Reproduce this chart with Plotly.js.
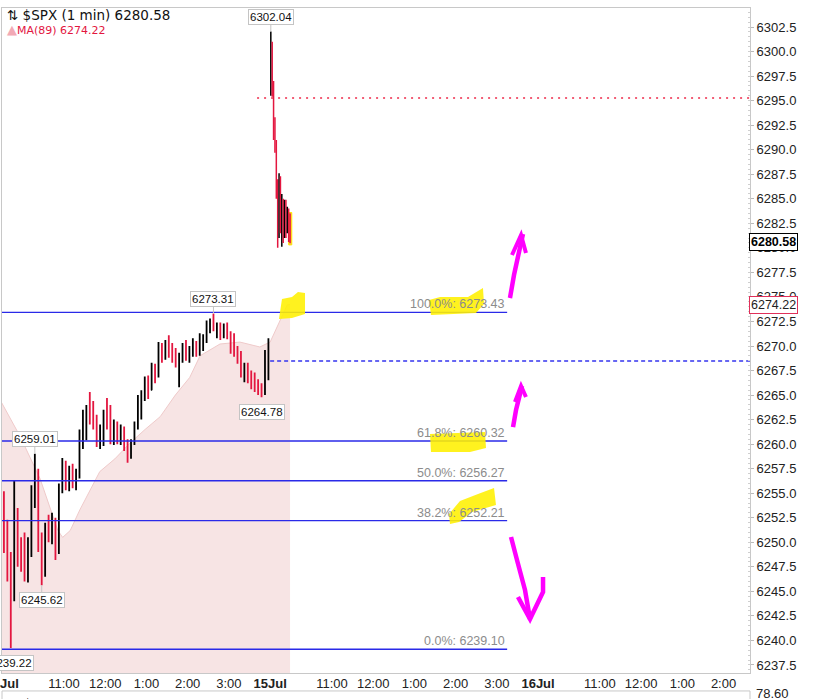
<!DOCTYPE html>
<html><head><meta charset="utf-8">
<script src="https://cdn.plot.ly/plotly-3.0.1.min.js"></script>
<style>html,body{margin:0;padding:0;background:#fff;}#chart{width:817px;height:699px;}</style>
</head><body><div id="chart"></div>
<script>
// ---------- DATA ----------
// Day 1 (14 Jul) price bars, 5-minute groups
const d1Open  = [6253.5,6250.0,6247.0,6244.5,6253.0,6249.0,6248.0,6247.0,6249.5,6255.0,6256.0,6250.0,6247.0,6251.5,6251.0,6252.0,6249.0,6255.5,6257.0,6256.0,6257.0,6256.0,6257.0,6260.5,6262.5,6263.5,6262.8,6262.0,6260.5,6261.0,6263.0,6262.0,6261.0,6262.0,6260.5,6261.5,6259.8,6259.0,6260.2,6262.0,6264.5,6265.0,6266.0,6265.5,6267.5,6267.0,6269.8,6268.8,6270.0,6269.3,6268.8,6268.0,6269.0,6270.0,6269.0,6269.5,6270.0,6269.4,6270.5,6270.8,6272.0,6272.5,6271.8,6272.0,6271.2,6271.8,6271.0,6269.8,6269.5,6268.5,6267.2,6267.8,6266.6,6266.0,6265.8,6265.5,6265.3,6267.0];
const d1High  = [6255.2,6252.3,6249.0,6256.3,6253.5,6250.5,6251.0,6250.5,6255.8,6259.01,6257.5,6251.0,6252.0,6252.8,6253.0,6252.5,6256.0,6258.6,6258.3,6257.8,6258.0,6257.5,6261.5,6263.5,6264.0,6265.3,6264.4,6263.0,6262.0,6263.5,6264.7,6264.0,6262.5,6262.3,6262.0,6261.8,6260.5,6260.5,6262.3,6265.0,6265.5,6266.9,6267.0,6268.3,6268.2,6270.4,6270.3,6270.6,6271.1,6270.3,6269.8,6269.3,6270.3,6270.6,6270.0,6270.8,6270.5,6271.3,6271.2,6272.6,6272.8,6273.31,6272.4,6272.4,6272.3,6272.4,6271.5,6271.3,6270.0,6269.5,6268.3,6268.3,6267.5,6267.3,6266.6,6266.2,6269.6,6270.8];
const d1Low   = [6248.9,6246.0,6239.22,6244.0,6247.5,6247.0,6246.0,6245.9,6248.5,6253.5,6249.0,6245.62,6246.5,6250.0,6249.8,6248.2,6248.8,6255.0,6255.3,6255.2,6255.5,6255.3,6256.5,6259.5,6260.4,6262.0,6261.5,6259.7,6259.5,6259.8,6261.5,6260.0,6259.9,6260.0,6259.9,6259.3,6258.1,6258.5,6259.9,6261.5,6262.5,6264.4,6264.6,6265.5,6266.2,6266.8,6268.3,6268.6,6268.8,6268.3,6267.8,6265.8,6268.3,6268.5,6268.3,6268.9,6268.9,6269.0,6269.5,6270.3,6271.3,6271.5,6270.8,6270.6,6270.8,6270.7,6269.2,6268.9,6268.2,6266.8,6266.3,6266.2,6265.6,6265.3,6265.0,6264.78,6265.0,6266.5];
const d1Close = [6250.0,6247.0,6244.5,6253.0,6249.0,6248.0,6247.0,6249.5,6255.0,6256.0,6250.0,6247.0,6251.5,6251.0,6252.0,6249.0,6255.5,6257.0,6256.0,6257.0,6256.0,6257.0,6260.5,6262.5,6263.5,6262.8,6262.0,6260.5,6261.0,6263.0,6262.0,6261.0,6262.0,6260.5,6261.5,6259.8,6259.0,6260.2,6262.0,6264.5,6265.0,6266.0,6265.5,6267.5,6267.0,6269.8,6268.8,6270.0,6269.3,6268.8,6268.0,6269.0,6270.0,6269.0,6269.5,6270.0,6269.4,6270.5,6270.8,6272.0,6272.5,6271.8,6272.0,6271.2,6271.8,6271.0,6269.8,6269.5,6268.5,6267.2,6267.8,6266.6,6266.0,6265.8,6265.5,6265.3,6267.0,6268.4];
// Day 2 (15 Jul) opening half hour, 2-minute groups
const d2Open  = [6296.5,6300.5,6296.0,6292.0,6290.5,6286.0,6282.0,6287.0,6282.5,6284.5,6281.5,6284.0,6282.0,6283.5,6281.5];
const d2High  = [6302.04,6301.0,6297.0,6293.3,6291.0,6287.0,6287.6,6287.3,6285.5,6285.0,6284.9,6284.9,6284.2,6284.0,6283.5];
const d2Low   = [6295.5,6295.4,6291.0,6289.7,6285.0,6280.0,6281.0,6281.5,6280.1,6280.5,6281.0,6281.0,6281.5,6280.6,6280.5];
const d2Close = [6300.5,6296.0,6292.0,6290.5,6286.0,6282.0,6287.0,6282.5,6284.5,6281.5,6284.0,6282.0,6283.5,6281.5,6280.58];
// MA(89) envelope (minutes since 14 Jul 9:30 session open, value)
const maTime = [-3,26,55,70,81,88,99,113,128,142,164,186,208,230,252,273,288,317,346,375,390,404,415,419];
const maVal  = [6264.5,6260.8,6256.5,6253.5,6251.2,6250.5,6251.2,6253.3,6255.3,6257.2,6258.5,6260.1,6261.5,6262.8,6265.0,6266.8,6269.0,6270.2,6270.4,6269.9,6270.4,6272.6,6274.2,6274.22];
// Fibonacci retracement levels
const fibPct = ["100.0%","61.8%","50.0%","38.2%","0.0%"];
const fibVal = [6273.43,6260.32,6256.27,6252.21,6239.10];
// Pivot labels (highs above, lows below)
const pivotHigh = [6302.04,6273.31,6259.01];
const pivotLow  = [6264.78,6245.62,6239.22];
// Reference lines: previous close (blue dashed), gap level (red dotted)
const refVal   = [6268.47,6295.27];
const refStart = [390,371];
// Legend values
const lastPrice = 6280.58, maLast = 6274.22, spyHyg = 78.44, lowerTick = 78.60;
// X axis ticks (minutes across sessions)
const tickMin  = [0,90,150,210,270,330,390,480,540,600,660,720,780,870,930,990,1050];
const tickText = ["<b>14Jul</b>","11:00","12:00","1:00","2:00","3:00","<b>15Jul</b>","11:00","12:00","1:00","2:00","3:00","<b>16Jul</b>","11:00","12:00","1:00","2:00"];
const fibEnd = 735;

// ---------- BUILD ----------
const d1Time = d1Open.map((_, i) => 5 * i + 2.5);
const d2Time = d2Open.map((_, i) => 390 + 2 * i + 1);
const RED = '#e3163f';
const YR = [6236.68, 6304.44];

const traces = [
  {type:'scatter', x:maTime, y:maVal, yaxis:'y', mode:'lines', fill:'tozeroy', fillcolor:'#f7e4e4',
   line:{color:'#efcaca', width:1}, hoverinfo:'skip'},
  {type:'ohlc', x:d1Time, open:d1Open, high:d1High, low:d1Low, close:d1Close, yaxis:'y2', tickwidth:0.5,
   increasing:{line:{color:'#000', width:1.8}}, decreasing:{line:{color:RED, width:1.8}}, hoverinfo:'skip'},
  {type:'ohlc', x:d2Time, open:d2Open, high:d2High, low:d2Low, close:d2Close, yaxis:'y2', tickwidth:0.5,
   increasing:{line:{color:'#000', width:1.5}}, decreasing:{line:{color:RED, width:1.5}}, hoverinfo:'skip'},
];
fibVal.forEach(v => traces.push({type:'scatter', x:[-5, fibEnd], y:[v, v], yaxis:'y2', mode:'lines',
  line:{color:'#2a2ae8', width:1.3}, hoverinfo:'skip'}));
traces.push({type:'scatter', x:[refStart[0], 1100], y:[refVal[0], refVal[0]], yaxis:'y2', mode:'lines',
  line:{color:'#3434ee', width:1.3, dash:'4px,3px'}, hoverinfo:'skip'});
traces.push({type:'scatter', x:[refStart[1], 1100], y:[refVal[1], refVal[1]], yaxis:'y2', mode:'lines',
  line:{color:'#ee2a4a', width:1.6, dash:'2px,5px'}, hoverinfo:'skip'});

const allT = d1Time.concat(d2Time), allH = d1High.concat(d2High), allL = d1Low.concat(d2Low);
const ann = [];
const boxFont = {family:'Liberation Sans, Arial', size:11.5, color:'#111'};
pivotHigh.forEach(v => { const i = allH.indexOf(v); ann.push({x:allT[i], y:v, xref:'x', yref:'y', text:v.toFixed(2),
  showarrow:true, arrowhead:0, arrowwidth:1, arrowcolor:'#c4c4c4', ax:0, ay:-15, bgcolor:'#fff', bordercolor:'#c4c4c4',
  borderwidth:1, borderpad:1, font:boxFont}); });
pivotLow.forEach(v => { const i = allL.indexOf(v); ann.push({x:allT[i], y:v, xref:'x', yref:'y', text:v.toFixed(2),
  showarrow:true, arrowhead:0, arrowwidth:1, arrowcolor:'#c4c4c4', ax:0, ay:15, bgcolor:'#fff', bordercolor:'#c4c4c4',
  borderwidth:1, borderpad:1, font:boxFont}); });
fibVal.forEach((v, i) => ann.push({x:fibEnd, y:v, xref:'x', yref:'y', xanchor:'right', yanchor:'bottom', yshift:-1,
  text:fibPct[i] + ': ' + v.toFixed(2), showarrow:false, font:{family:'Liberation Sans, Arial', size:12.5, color:'#8c8c8c'}}));
// price tags on right axis
ann.push({xref:'paper', x:1, xanchor:'left', xshift:-1, y:lastPrice, yref:'y', text:'<b>' + lastPrice.toFixed(2) + '</b>',
  showarrow:false, bgcolor:'#fff', bordercolor:'#000', borderwidth:1, borderpad:1, font:{family:'Liberation Sans, Arial', size:12.5, color:'#000'}});
ann.push({xref:'paper', x:1, xanchor:'left', xshift:-1, y:maLast, yref:'y', text:maLast.toFixed(2),
  showarrow:false, bgcolor:'#fff', bordercolor:'#e0305a', borderwidth:1, borderpad:1, font:{family:'Liberation Sans, Arial', size:12.5, color:'#222'}});
// legend text
ann.push({xref:'paper', yref:'paper', x:0.004, y:0.9895, xanchor:'left', yanchor:'middle', showarrow:false,
  text:'⇅ $SPX (1 min) ' + lastPrice.toFixed(2), font:{family:'DejaVu Sans', size:13.5, color:'#111'}});
ann.push({xref:'paper', yref:'paper', x:0.004, y:0.968, xanchor:'left', yanchor:'middle', showarrow:false,
  text:'<span style="color:#f2a9b5;font-size:13px">▲</span>MA(89) ' + maLast.toFixed(2), font:{family:'DejaVu Sans', size:11, color:'#e3163f'}});
// lower panel
ann.push({xref:'paper', yref:'paper', x:0.006, y:-0.031, xanchor:'left', yanchor:'top', showarrow:false,
  text:'▬ $SPY:HYG ' + spyHyg.toFixed(2), font:{family:'DejaVu Sans', size:12.5, color:'#111'}});
ann.push({xref:'paper', yref:'paper', x:1, y:-0.031, xanchor:'left', xshift:4, yanchor:'middle', showarrow:false,
  text:lowerTick.toFixed(2), font:{family:'Liberation Sans, Arial', size:13, color:'#222'}});

// pixel helper for hand-drawn marks (plot area: x 2..750, y 8..673)
const P = (px, py) => ((px - 2) / 748).toFixed(4) + ',' + ((673 - py) / 665).toFixed(4);
const path = pts => 'M' + pts.map(p => P(p[0], p[1])).join(' L') ;
const YEL = 'rgba(255,240,0,0.88)', MAG = '#ff00ff';
const shapes = [
  {type:'rect', xref:'paper', yref:'paper', x0:0, x1:1, y0:-0.027, y1:-0.2, line:{color:'#c8c8c8', width:1}, layer:'above'},
  {type:'rect', xref:'x', yref:'y', x0:d2Time[d2Time.length-1]-2, x1:d2Time[d2Time.length-1]+2.5,
   y0:d2Low[d2Low.length-1]-0.2, y1:d2High[d2High.length-1]+0.1, fillcolor:'rgba(247,160,30,0.85)', line:{color:'#ffe600', width:1}, layer:'below'},
  {type:'path', xref:'paper', yref:'paper', path:path([[279,319],[282,299],[292,297],[298,292],[305,293],[305,314],[292,318]])+' Z', fillcolor:YEL, line:{width:0}, layer:'above'},
  {type:'path', xref:'paper', yref:'paper', path:path([[429,300],[440,297],[468,297],[478,291],[483,288],[484,304],[476,313],[431,315]])+' Z', fillcolor:YEL, line:{width:0}, layer:'above'},
  {type:'path', xref:'paper', yref:'paper', path:path([[430,434],[485,432],[486,448],[470,452],[431,452]])+' Z', fillcolor:YEL, line:{width:0}, layer:'above'},
  {type:'path', xref:'paper', yref:'paper', path:path([[449,514],[460,501],[478,494],[494,488],[496,505],[472,512],[459,522],[450,524]])+' Z', fillcolor:YEL, line:{width:0}, layer:'above'},
  // magenta arrows
  {type:'path', xref:'paper', yref:'paper', path:path([[510,298],[514,275],[519,252],[523,234]]), line:{color:MAG, width:4.5}, layer:'above'},
  {type:'path', xref:'paper', yref:'paper', path:path([[512,255],[521,235],[526,253]]), line:{color:MAG, width:4}, layer:'above'},
  {type:'path', xref:'paper', yref:'paper', path:path([[513,427],[516,410],[522,386]]), line:{color:MAG, width:4.5}, layer:'above'},
  {type:'path', xref:'paper', yref:'paper', path:path([[515,402],[521,386],[526,397]]), line:{color:MAG, width:4}, layer:'above'},
  {type:'path', xref:'paper', yref:'paper', path:path([[511,537],[517,560],[525,590],[530,619]]), line:{color:MAG, width:4.5}, layer:'above'},
  {type:'path', xref:'paper', yref:'paper', path:path([[518,597],[530,619],[543,592],[543,577]]), line:{color:MAG, width:4.5}, layer:'above'},
];

const axisFont = {family:'Liberation Sans, Arial', size:13, color:'#222'};
const layout = {
  width:817, height:699, margin:{l:2, r:67, t:8, b:26},
  paper_bgcolor:'#fff', plot_bgcolor:'#fff', showlegend:false, hovermode:false,
  xaxis:{type:'linear', range:[-0.3, 1088.5], tickmode:'array', tickvals:tickMin, ticktext:tickText,
    ticks:'', ticklabelstandoff:-2, showgrid:false, zeroline:false, showline:true,
    linecolor:'#c8c8c8', mirror:true, tickfont:axisFont, ticklabeloverflow:'allow',
    rangeslider:{visible:false}, fixedrange:true},
  yaxis:{side:'right', range:YR, tick0:6237.5, dtick:2.5, tickformat:'.1f',
    ticks:'outside', ticklen:3, tickcolor:'#bbb', showgrid:false, zeroline:false, showline:true,
    linecolor:'#c8c8c8', mirror:true, tickfont:axisFont, fixedrange:true,
    minor:{dtick:0.5, ticks:'inside', ticklen:2, tickcolor:'#cfcfcf'}},
  yaxis2:{overlaying:'y', side:'right', range:YR, visible:false, showgrid:false, zeroline:false, fixedrange:true},
  annotations:ann, shapes:shapes
};
Plotly.newPlot('chart', traces, layout, {displayModeBar:false, staticPlot:true});
</script></body></html>
